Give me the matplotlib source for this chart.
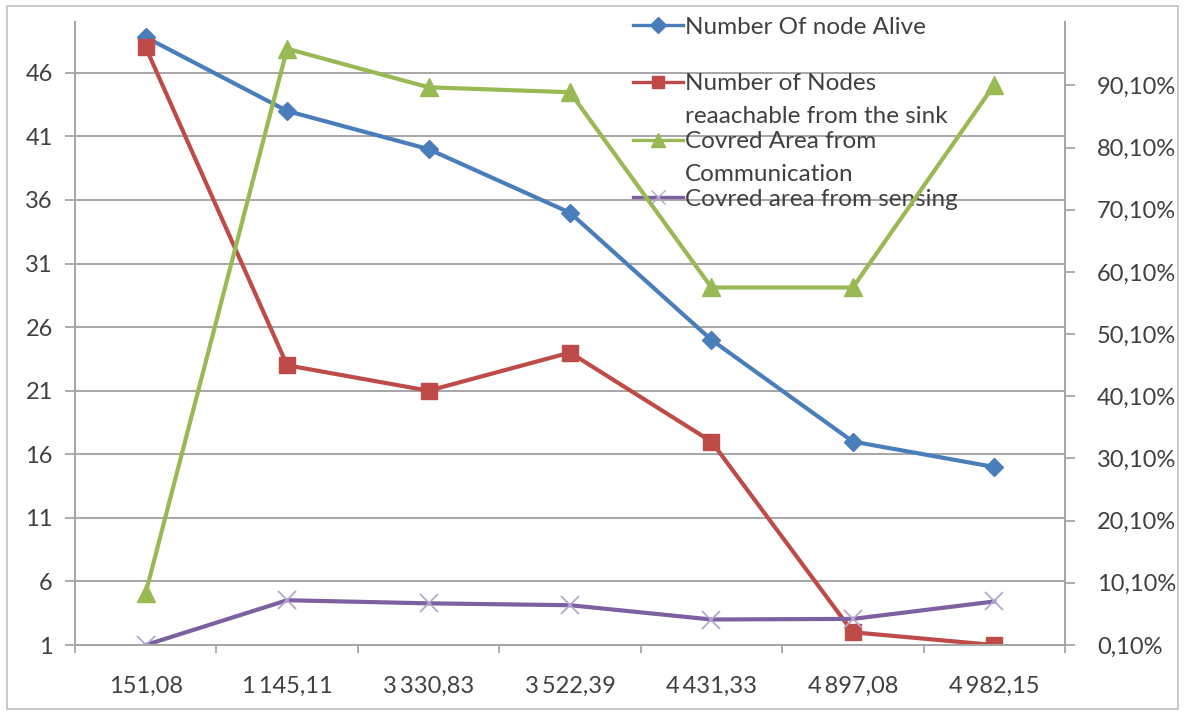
import matplotlib
matplotlib.use("Agg")
import matplotlib.pyplot as plt
from matplotlib.patches import Rectangle
from matplotlib.ticker import FuncFormatter, FixedLocator

plt.rcParams['font.family'] = ['Lato', 'DejaVu Sans']

# simulation time (x categories)
times = ["151,08", "1\u2009145,11", "3\u2009330,83", "3\u2009522,39",
         "4\u2009431,33", "4\u2009897,08", "4\u2009982,15"]

# node counts (left axis)
alive = [48.8, 43, 40, 35, 25, 17, 15]
reachable = [48, 23, 21, 24, 17, 2, 1]

# covered area fractions (right axis)
cov_comm = [0.085, 0.960, 0.898, 0.890, 0.576, 0.576, 0.902]
cov_sense = [0.001, 0.073, 0.068, 0.065, 0.042, 0.043, 0.071]

labels = ["Number Of node Alive",
          "Number of Nodes\nreaachable from the sink",
          "Covred Area from\nCommunication",
          "Covred area from sensing"]

blue = "#4a7ebb"
red = "#be4b48"
green = "#98b954"
purple = "#7d60a0"

fig = plt.figure(figsize=(11.85, 7.15), dpi=100)
fig.patches.append(Rectangle((0.006, 0.008), 0.988, 0.984, transform=fig.transFigure,
                             fill=False, edgecolor="#c0c0c0", linewidth=1.2))

ax = fig.add_axes([75 / 1185, 1 - 645 / 715, 990 / 1185, 623 / 715])
ax2 = ax.twinx()

x = list(range(len(times)))
ax.plot(x, alive, color=blue, lw=3.0, marker="D", ms=9, mfc=blue, mec=blue, zorder=3)
ax.plot(x, reachable, color=red, lw=3.0, marker="s", ms=12, mfc=red, mec=red, zorder=3)
ax2.plot(x, cov_comm, color=green, lw=3.0, marker="^", ms=13, mfc=green, mec=green)
ax2.plot(x, cov_sense, color=purple, lw=3.0, marker="x", ms=13, mew=1.3, mec="#b4a6cc")

ax.set_xlim(-0.5, len(times) - 0.5)
ax.set_ylim(1, 50)
ax2.set_ylim(0.001, 1.003)

ax.set_yticks(range(1, 47, 5))
ax2.set_yticks([0.001 + 0.1 * i for i in range(10)])
ax2.yaxis.set_major_formatter(FuncFormatter(
    lambda v, p: f"{v * 100:.2f}".replace(".", ",") + "%"))

ax.set_xticks(x)
ax.set_xticklabels(times)
ax.xaxis.set_minor_locator(FixedLocator([i - 0.5 for i in range(len(times) + 1)]))
ax.tick_params(axis="x", which="major", length=0, pad=22)
ax.tick_params(axis="x", which="minor", length=6, color="#a0a0a0", width=1.2)
ax.tick_params(axis="y", length=7, color="#a0a0a0", width=1.2, pad=9)
ax2.tick_params(axis="y", length=7, color="#a0a0a0", width=1.2, pad=16)
for a in (ax, ax2):
    a.tick_params(labelsize=17, labelcolor="#404040")

ax.grid(axis="y", color="#a6a6a6", lw=1.4)
ax.set_axisbelow(True)

for a in (ax, ax2):
    a.spines["top"].set_visible(False)
    for s in ("left", "right", "bottom"):
        a.spines[s].set_color("#a6a6a6")
        a.spines[s].set_linewidth(1.4)

# legend drawn in axes fraction, entries overlapping like the original
styles = [(blue, "D", 8, blue), (red, "s", 9, red),
          (green, "^", 10, green), (purple, "x", 10, "#b4a6cc")]
rows = [0.995, 0.904, 0.811, 0.719]
line_step = 33 / 623
x0, x1 = 558 / 990, 608 / 990
for (c, m, s, mc), lab, yy in zip(styles, labels, rows):
    ax.plot([x0, x1], [yy, yy], color=c, lw=2.4, transform=ax.transAxes,
            clip_on=False, zorder=5)
    ax.plot([(x0 + x1) / 2], [yy], marker=m, ms=s, color=mc, mec=mc,
            transform=ax.transAxes, clip_on=False, zorder=5)
    for k, part in enumerate(lab.split("\n")):
        ax.text(x1 + 0.002, yy - k * line_step, part, transform=ax.transAxes,
                fontsize=17.5, color="#404040", va="center_baseline", ha="left",
                zorder=6)

fig.savefig("out.png", dpi=100)
